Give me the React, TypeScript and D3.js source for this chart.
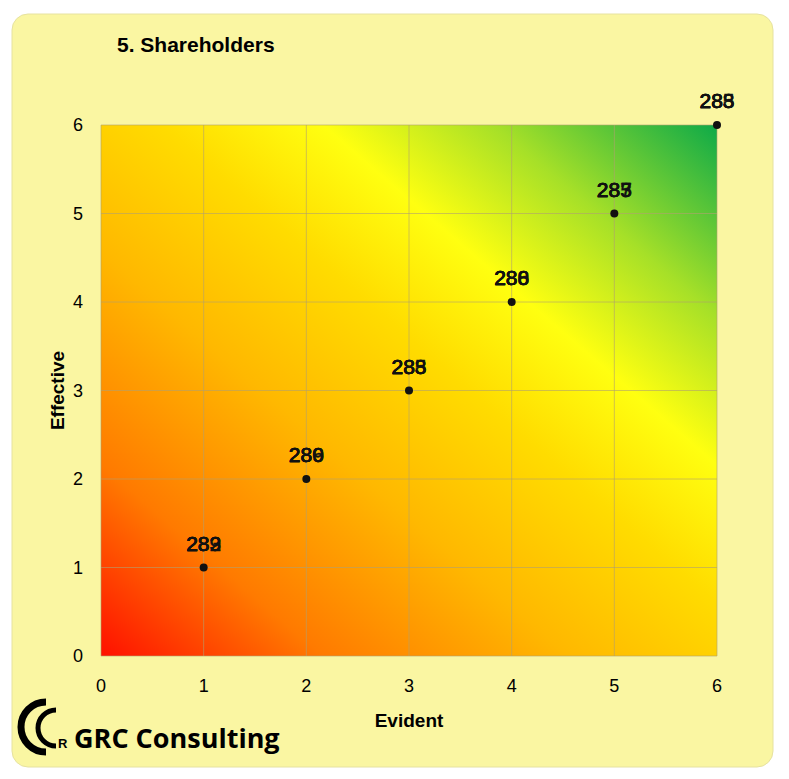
import * as d3 from 'd3';
import * as React from 'react';

const evident = [1, 2, 3, 4, 5, 6];
const effective = [1, 2, 3, 4, 5, 6];
// several labels sit on each point in the original and overprint each other
const pointLabels = [
  ['282', '283', '289'],
  ['280', '286', '289'],
  ['285', '288', '283'],
  ['280', '286', '288'],
  ['285', '287', '283'],
  ['283', '285', '288'],
];
const ticks = [0, 1, 2, 3, 4, 5, 6];

const W = 789;
const H = 779;
const m = { left: 101, right: 72, top: 125, bottom: 123 };

export default function App() {
  const x = d3.scaleLinear().domain([0, 6]).range([m.left, W - m.right]);
  const y = d3.scaleLinear().domain([0, 6]).range([H - m.bottom, m.top]);
  const font = 'Liberation Sans, Arial, sans-serif';

  return (
    <svg width={W} height={H} style={{ position: 'absolute', left: 0, top: 0, background: '#fff' }}>
      <defs>
        <linearGradient id="bg" x1="0" y1="1" x2="1" y2="0">
          <stop offset="0" stopColor="#ff1000" />
          <stop offset="0.18" stopColor="#ff7a00" />
          <stop offset="0.38" stopColor="#ffb800" />
          <stop offset="0.55" stopColor="#ffdc00" />
          <stop offset="0.68" stopColor="#ffff10" />
          <stop offset="0.82" stopColor="#a6e028" />
          <stop offset="1" stopColor="#0eaa48" />
        </linearGradient>
      </defs>
      <rect x={12} y={14} width={761} height={753} rx={16} fill="#faf6a2" stroke="#e6e2a0" />
      <text x={117} y={52} fontFamily={font} fontWeight="bold" fontSize={21}>5. Shareholders</text>
      <rect x={x(0)} y={y(6)} width={x(6) - x(0)} height={y(0) - y(6)} fill="url(#bg)" />
      {ticks.map((t) => (
        <g key={t}>
          <line x1={x(t)} x2={x(t)} y1={y(0)} y2={y(6)} stroke="#b0a070" strokeOpacity={0.6} />
          <line x1={x(0)} x2={x(6)} y1={y(t)} y2={y(t)} stroke="#b0a070" strokeOpacity={0.6} />
          <text x={x(t)} y={y(0) + 36} textAnchor="middle" fontFamily={font} fontSize={18}>{t}</text>
          <text x={x(0) - 18} y={y(t) + 6} textAnchor="end" fontFamily={font} fontSize={18}>{t}</text>
        </g>
      ))}
      <text x={(x(0) + x(6)) / 2} y={727} textAnchor="middle" fontFamily={font} fontWeight="bold" fontSize={19}>Evident</text>
      <text transform={`translate(64,${(y(0) + y(6)) / 2}) rotate(-90)`} textAnchor="middle" fontFamily={font} fontWeight="bold" fontSize={19}>Effective</text>
      {evident.map((v, i) => (
        <g key={i}>
          <circle cx={x(v)} cy={y(effective[i])} r={4} fill="#111" />
          {pointLabels[i].map((l, j) => (
            <text key={j} x={x(v)} y={y(effective[i]) - 17} textAnchor="middle" fontFamily={font} fontSize={21} fill="#111" stroke="#111" strokeWidth={0.4}>{l}</text>
          ))}
        </g>
      ))}
      <g fontFamily={font}>
        <path d="M46,702 A25,25 0 1,0 46,752" fill="none" stroke="#000" strokeWidth={7} />
        <path d="M56,710 A18,18 0 1,0 56,746" fill="none" stroke="#000" strokeWidth={5} />
        <text x={58} y={748} fontSize={13} fontWeight="bold">R</text>
        <text x={74} y={748} fontSize={27} fontWeight="bold" fontFamily="Open Sans, sans-serif">GRC Consulting</text>
      </g>
    </svg>
  );
}
